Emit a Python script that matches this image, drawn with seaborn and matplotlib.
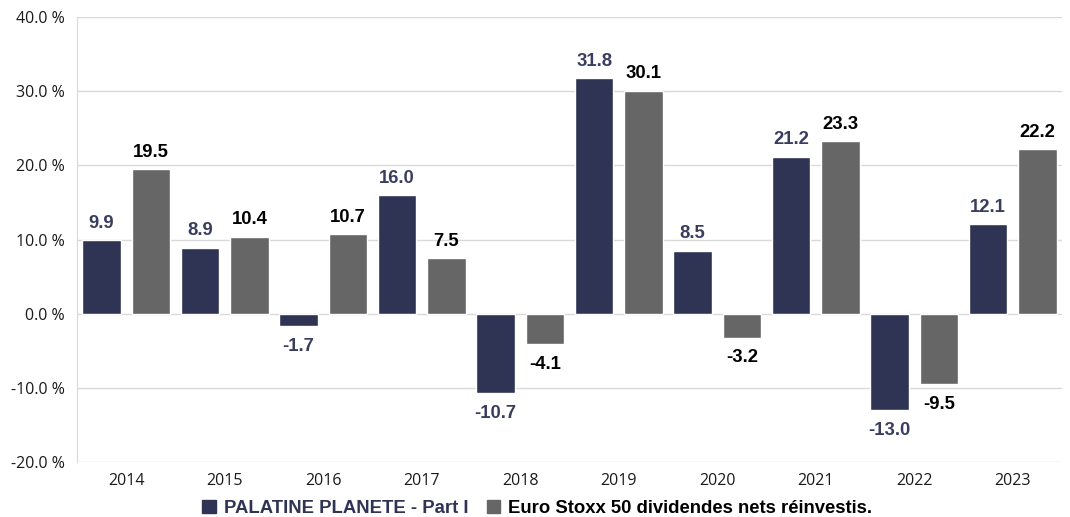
import numpy as np
import pandas as pd
import matplotlib
matplotlib.use('Agg')
import matplotlib.pyplot as plt
import seaborn as sns

years = ['2014', '2015', '2016', '2017', '2018', '2019', '2020', '2021', '2022', '2023']
fonds = [9.9, 8.9, -1.7, 16.0, -10.7, 31.8, 8.5, 21.2, -13.0, 12.1]
indice = [19.5, 10.4, 10.7, 7.5, -4.1, 30.1, -3.2, 23.3, -9.5, 22.2]
series = ['PALATINE PLANETE - Part I', 'Euro Stoxx 50 dividendes nets réinvestis.']

navy = '#2f3354'
grey = '#666666'
label_navy = '#3a3e5e'

df = pd.DataFrame({
    'annee': years * 2,
    'perf': fonds + indice,
    'serie': [series[0]] * len(years) + [series[1]] * len(years),
})

sns.set_style('white')
plt.rcParams['font.family'] = ['Open Sans', 'DejaVu Sans']

fig = plt.figure(figsize=(10.7, 5.17), dpi=100)
ax = fig.add_axes([0.072, 0.106, 0.9205, 0.861])

sns.barplot(data=df, x='annee', y='perf', hue='serie', palette=[navy, grey],
            width=1.0, gap=0.22, ax=ax, legend=False, saturation=1)

# étiquettes : un peu plus d'espace sous les barres négatives
for cont, col, vals in zip(ax.containers, [label_navy, 'black'], [fonds, indice]):
    pos = ['%.1f' % v if v >= 0 else '' for v in vals]
    neg = ['%.1f' % v if v < 0 else '' for v in vals]
    ax.bar_label(cont, labels=pos, padding=6, color=col, fontsize=13.3,
                 fontweight='bold', family='Liberation Sans')
    ax.bar_label(cont, labels=neg, padding=8.5, color=col, fontsize=13.3,
                 fontweight='bold', family='Liberation Sans')

ax.set_ylim(-20, 40)
ax.set_xlim(-0.5, 9.5)
ax.set_yticks(np.arange(-20, 41, 10))
ax.set_yticklabels(['%.1f %%' % v for v in np.arange(-20, 41, 10)])
ax.grid(axis='y', color='#d9d9d9', linewidth=1)
ax.set_axisbelow(True)
for s in ['top', 'right', 'bottom']:
    ax.spines[s].set_visible(False)
ax.spines['left'].set_color('#d9d9d9')
ax.tick_params(axis='both', length=0, labelsize=11.5, colors='#1a1a1a')
ax.tick_params(axis='x', pad=8)
ax.tick_params(axis='y', pad=9)
ax.set_xlabel('')
ax.set_ylabel('')

handles = [plt.Rectangle((0, 0), 1, 1, color=navy), plt.Rectangle((0, 0), 1, 1, color=grey)]
fig.legend(handles, series, loc='center', bbox_to_anchor=(0.502, 0.017), ncol=2, frameon=False,
           prop={'family': 'Liberation Sans', 'weight': 'bold', 'size': 13.3},
           labelcolor=[navy, 'black'], handlelength=0.75, handleheight=0.75,
           handletextpad=0.4, columnspacing=1.0)

fig.savefig('out.png', dpi=100)
